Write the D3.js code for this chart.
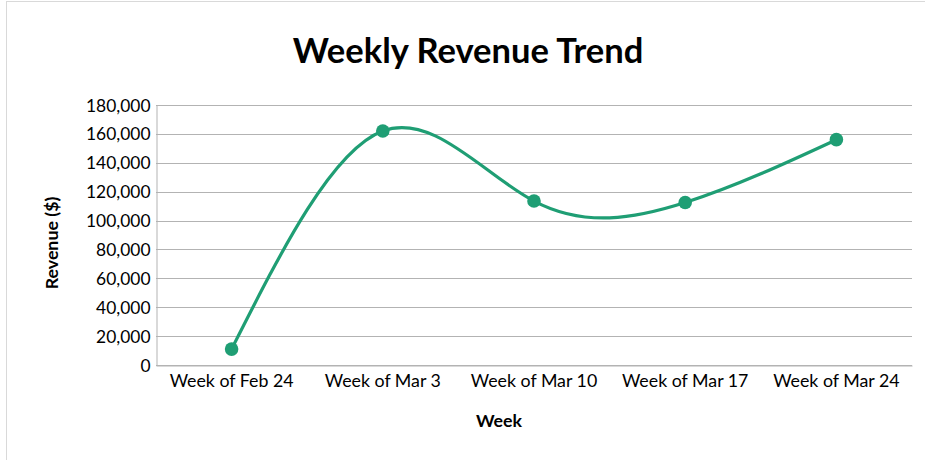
<!DOCTYPE html>
<html>
<head>
<meta charset="utf-8">
<script src="https://cdn.jsdelivr.net/npm/d3@7"></script>
<style>
  body { margin: 0; background: #fff; }
  text { font-family: Lato, "Open Sans", sans-serif; fill: #000; }
</style>
</head>
<body>
<svg></svg>
<script>
// chart data
const weeks = ['Week of Feb 24', 'Week of Mar 3', 'Week of Mar 10', 'Week of Mar 17', 'Week of Mar 24'];
const revenue = [11000, 162000, 113500, 112500, 156000];
const yTicks = [0, 20000, 40000, 60000, 80000, 100000, 120000, 140000, 160000, 180000];

const size = {w: 925, h: 460};
const plot = {l: 156, r: 912, t: 105, b: 365};
const lineColor = '#1f9e74';

const svg = d3.select('svg')
    .attr('width', size.w)
    .attr('height', size.h);

// outer chart frame (runs past the window edge)
svg.append('rect')
    .attr('x', 6.5).attr('y', 1.5)
    .attr('width', 1000).attr('height', 600)
    .attr('fill', 'none')
    .attr('stroke', '#d9d9d9');

let x = d3.scaleBand()
    .domain(weeks)
    .range([plot.l, plot.r]);

let y = d3.scaleLinear()
    .domain([0, 180000])
    .range([plot.b, plot.t]);

// gridlines
svg.append('g').classed('grid', true)
    .selectAll('line')
    .data(yTicks)
    .join('line')
    .attr('x1', plot.l).attr('x2', plot.r)
    .attr('y1', d => Math.round(y(d)) + 0.5)
    .attr('y2', d => Math.round(y(d)) + 0.5)
    .attr('stroke', '#b3b3b3');

// y axis
let yAxis = svg.append('g')
    .attr('transform', `translate(${plot.l + 0.5},0)`)
    .call(d3.axisLeft(y).tickValues(yTicks).tickSize(0).tickPadding(6)
        .tickFormat(d3.format(',')));
yAxis.select('.domain').attr('stroke', '#b3b3b3');
yAxis.selectAll('text').style('font-size', '17.4px').attr('dy', '0.35em');

// x axis
let xAxis = svg.append('g')
    .attr('transform', `translate(0,${plot.b + 0.5})`)
    .call(d3.axisBottom(x).tickSize(0).tickPadding(9));
xAxis.select('.domain').attr('stroke', '#b3b3b3');
xAxis.selectAll('text').style('font-size', '17.8px');

// line (smoothed like the spreadsheet spline)
let line = d3.line()
    .x((d, i) => x(weeks[i]) + x.bandwidth() / 2)
    .y(d => y(d))
    .curve(d3.curveNatural);

svg.append('path')
    .datum(revenue)
    .attr('d', line)
    .attr('fill', 'none')
    .attr('stroke', lineColor)
    .attr('stroke-width', 3.2);

svg.append('g').selectAll('circle')
    .data(revenue)
    .join('circle')
    .attr('cx', (d, i) => x(weeks[i]) + x.bandwidth() / 2)
    .attr('cy', d => y(d))
    .attr('r', 6.8)
    .attr('fill', lineColor);

// titles
svg.append('text')
    .attr('x', 468).attr('y', 63)
    .attr('text-anchor', 'middle')
    .style('font-size', '34.5px')
    .style('font-weight', 'bold')
    .text('Weekly Revenue Trend');

svg.append('text')
    .attr('x', 499).attr('y', 427)
    .attr('text-anchor', 'middle')
    .style('font-size', '17.8px')
    .style('font-weight', 'bold')
    .text('Week');

svg.append('text')
    .attr('transform', 'translate(58,243) rotate(-90)')
    .attr('text-anchor', 'middle')
    .style('font-size', '17.8px')
    .style('font-weight', 'bold')
    .text('Revenue ($)');
</script>
</body>
</html>
